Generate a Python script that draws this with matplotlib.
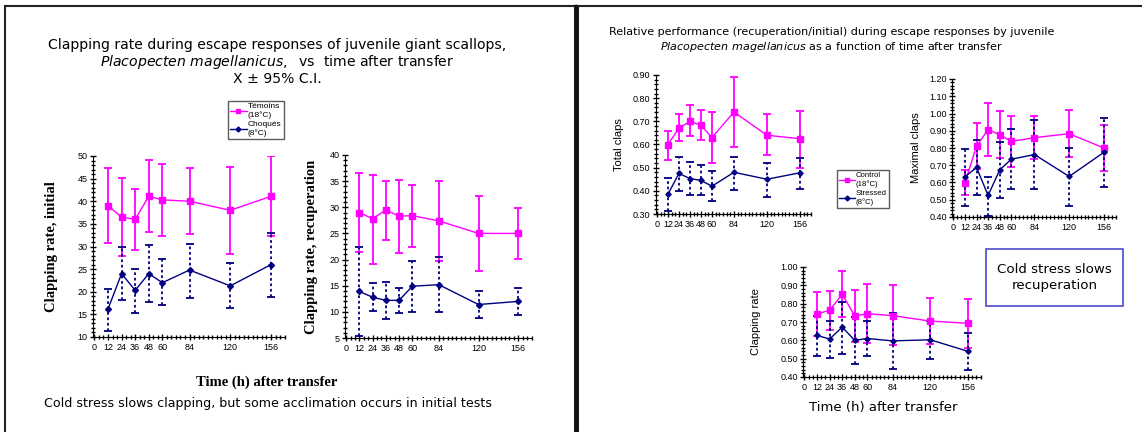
import matplotlib
matplotlib.use("Agg")
import matplotlib.pyplot as plt
from matplotlib.patches import Rectangle
from matplotlib.lines import Line2D

W, H = 1142, 432

hours = [12, 24, 36, 48, 60, 84, 120, 156]
tick_hours = [0, 12, 24, 36, 48, 60, 84, 120, 156]

# left panel: initial clapping rate (mean, low CI, high CI)
init_ctrl = [39.0, 36.5, 36.0, 41.1, 40.3, 40.0, 38.0, 41.1]
init_ctrl_lo = [30.7, 28.0, 29.3, 33.1, 32.3, 32.7, 28.3, 32.3]
init_ctrl_hi = [47.3, 45.2, 42.8, 49.1, 48.3, 47.4, 47.6, 50.0]
init_cold = [16.2, 24.0, 20.3, 24.0, 22.0, 24.8, 21.3, 26.0]
init_cold_lo = [11.3, 18.1, 15.4, 17.7, 17.0, 18.6, 16.3, 18.8]
init_cold_hi = [20.7, 30.0, 25.0, 30.3, 27.2, 30.5, 26.4, 33.0]

# left panel: recuperation clapping rate
rec_ctrl = [29.0, 27.8, 29.5, 28.3, 28.4, 27.4, 25.0, 25.0]
rec_ctrl_lo = [21.4, 19.2, 23.8, 21.2, 22.5, 19.8, 17.8, 20.2]
rec_ctrl_hi = [36.5, 36.1, 35.0, 35.2, 34.2, 35.0, 32.1, 29.8]
rec_cold = [13.9, 12.8, 12.2, 12.2, 14.9, 15.2, 11.4, 12.0]
rec_cold_lo = [5.3, 10.2, 8.6, 9.7, 10.0, 10.0, 8.8, 9.4]
rec_cold_hi = [22.5, 15.5, 15.7, 14.6, 19.8, 20.5, 14.0, 14.5]

# right panel: relative performance, total claps
tot_ctrl = [0.600, 0.670, 0.700, 0.683, 0.630, 0.740, 0.640, 0.625]
tot_ctrl_lo = [0.535, 0.615, 0.635, 0.618, 0.520, 0.590, 0.553, 0.500]
tot_ctrl_hi = [0.660, 0.730, 0.770, 0.748, 0.740, 0.890, 0.733, 0.745]
tot_cold = [0.385, 0.475, 0.453, 0.445, 0.420, 0.480, 0.450, 0.478]
tot_cold_lo = [0.315, 0.400, 0.380, 0.380, 0.355, 0.405, 0.375, 0.410]
tot_cold_hi = [0.455, 0.545, 0.525, 0.510, 0.485, 0.548, 0.522, 0.540]

# right panel: maximal claps
max_ctrl = [0.600, 0.810, 0.907, 0.877, 0.838, 0.860, 0.883, 0.800]
max_ctrl_lo = [0.528, 0.680, 0.755, 0.740, 0.690, 0.735, 0.745, 0.665]
max_ctrl_hi = [0.672, 0.943, 1.060, 1.014, 0.983, 0.987, 1.022, 0.933]
max_cold = [0.633, 0.687, 0.525, 0.673, 0.735, 0.762, 0.635, 0.775]
max_cold_lo = [0.465, 0.530, 0.405, 0.510, 0.562, 0.563, 0.465, 0.575]
max_cold_hi = [0.795, 0.845, 0.632, 0.835, 0.910, 0.960, 0.800, 0.975]

# right panel: clapping rate
rate_ctrl = [0.745, 0.763, 0.852, 0.733, 0.745, 0.735, 0.705, 0.693]
rate_ctrl_lo = [0.625, 0.655, 0.725, 0.590, 0.585, 0.572, 0.578, 0.558]
rate_ctrl_hi = [0.865, 0.870, 0.977, 0.875, 0.908, 0.900, 0.832, 0.828]
rate_cold = [0.627, 0.607, 0.672, 0.600, 0.610, 0.597, 0.603, 0.540]
rate_cold_lo = [0.515, 0.505, 0.528, 0.470, 0.515, 0.445, 0.500, 0.440]
rate_cold_hi = [0.735, 0.705, 0.810, 0.730, 0.705, 0.750, 0.705, 0.640]

PINK = "#ff00ff"
NAVY = "#000080"


def px_axes(fig, x0, x1, ytop, ybot):
    return fig.add_axes([x0 / W, 1 - ybot / H, (x1 - x0) / W, (ybot - ytop) / H])


def draw_series(ax, y, lo, hi, color, marker, ms, dotted):
    yerr = [[m - l for m, l in zip(y, lo)], [h - m for m, h in zip(y, hi)]]
    eb = ax.errorbar(hours, y, yerr=yerr, color=color, marker=marker, ms=ms,
                     lw=1, elinewidth=1.3, capsize=3, capthick=1.3, zorder=3)
    if dotted:
        eb[2][0].set_linestyle((0, (1.5, 1.5)))
    return eb


def style_axes(ax, ylim, ystep, yminor, fmt, fs):
    ax.set_xlim(-1, 168)
    ax.set_ylim(*ylim)
    for s in ["top", "right"]:
        ax.spines[s].set_visible(False)
    ax.set_xticks(tick_hours)
    ax.set_xticks(range(0, 169, 4), minor=True)
    n = int(round((ylim[1] - ylim[0]) / ystep))
    yt = [ylim[0] + i * ystep for i in range(n + 1)]
    ax.set_yticks(yt)
    ax.set_yticklabels([fmt.format(v) for v in yt])
    m = int(round((ylim[1] - ylim[0]) / yminor))
    ax.set_yticks([ylim[0] + i * yminor for i in range(m + 1)], minor=True)
    ax.tick_params(which="both", direction="inout", labelsize=fs, width=1)
    ax.tick_params(which="major", length=4, pad=2)
    ax.tick_params(which="minor", length=2.5)
    for lab in ax.get_xticklabels() + ax.get_yticklabels():
        lab.set_family("Liberation Sans")


fig = plt.figure(figsize=(W / 100, H / 100), dpi=100)

# panel borders
fig.patches.append(Rectangle((5 / W, -0.05), 570 / W, 1 - 6 / H + 0.05,
                             transform=fig.transFigure, fill=False, lw=1.5, ec="#222222"))
fig.add_artist(Line2D([575.5 / W, 575.5 / W], [0, 1 - 6 / H], transform=fig.transFigure,
                      lw=2.5, color="#111111"))
fig.patches.append(Rectangle((578 / W, -0.05), 0.6, 1 - 6 / H + 0.05,
                             transform=fig.transFigure, fill=False, lw=1.5, ec="#222222"))

# left panel titles
fig.text(277 / W, 1 - 45 / H, "Clapping rate during escape responses of juvenile giant scallops,",
         ha="center", va="center", fontsize=10.1, family="DejaVu Sans")
fig.text(277 / W, 1 - 62 / H,
         r"$\it{Placopecten\ magellanicus,}$" + "  vs  time after transfer",
         ha="center", va="center", fontsize=10.1, family="DejaVu Sans")
fig.text(277 / W, 1 - 79 / H, "X \u00b1 95% C.I.", ha="center", va="center",
         fontsize=10.1, family="DejaVu Sans")

ax1 = px_axes(fig, 93.3, 284.6, 156, 337)
draw_series(ax1, init_ctrl, init_ctrl_lo, init_ctrl_hi, PINK, "s", 5, False)
draw_series(ax1, init_cold, init_cold_lo, init_cold_hi, NAVY, "D", 3, True)
style_axes(ax1, (10, 50), 5, 1, "{:.0f}", 6.5)
ax1.set_ylabel("Clapping rate, initial", family="Liberation Serif", fontweight="bold",
               fontsize=10.5, labelpad=14)

ax2 = px_axes(fig, 345, 531.5, 155, 338)
draw_series(ax2, rec_ctrl, rec_ctrl_lo, rec_ctrl_hi, PINK, "s", 5, False)
draw_series(ax2, rec_cold, rec_cold_lo, rec_cold_hi, NAVY, "D", 3, True)
style_axes(ax2, (5, 40), 5, 1, "{:.0f}", 6.5)
ax2.set_ylabel("Clapping rate, recuperation", family="Liberation Serif", fontweight="bold",
               fontsize=10.5, labelpad=8)

leg_handles = [Line2D([], [], color=PINK, marker="s", ms=3.5, lw=1),
               Line2D([], [], color=NAVY, marker="D", ms=2.5, lw=1)]
fig.legend(leg_handles, ["T\u00e9moins\n(18\u00b0C)", "Choqu\u00e9s\n(8\u00b0C)"],
           loc="upper left", bbox_to_anchor=(228 / W, 1 - 101 / H),
           prop={"family": "Liberation Sans", "size": 6}, frameon=True, fancybox=False,
           edgecolor="#333333", handlelength=2.0, handletextpad=0.15, borderpad=0.25,
           labelspacing=0.3, borderaxespad=0)

fig.text(267 / W, 1 - 382 / H, "Time (h) after transfer", ha="center", va="center",
         family="Liberation Serif", fontweight="bold", fontsize=10.5)
fig.text(268 / W, 1 - 403 / H,
         "Cold stress slows clapping, but some acclimation occurs in initial tests",
         ha="center", va="center", fontsize=9.1, family="DejaVu Sans")

# right panel
fig.text(832 / W, 1 - 32 / H,
         "Relative performance (recuperation/initial) during escape responses by juvenile",
         ha="center", va="center", fontsize=8.0, family="DejaVu Sans")
fig.text(832 / W, 1 - 47 / H,
         r"$\it{Placopecten\ magellanicus}$" + " as a function of time after transfer",
         ha="center", va="center", fontsize=8.0, family="DejaVu Sans")

ax3 = px_axes(fig, 656, 811, 75, 214)
draw_series(ax3, tot_ctrl, tot_ctrl_lo, tot_ctrl_hi, PINK, "s", 4.5, False)
draw_series(ax3, tot_cold, tot_cold_lo, tot_cold_hi, NAVY, "D", 2.7, True)
style_axes(ax3, (0.30, 0.90), 0.10, 0.02, "{:.2f}", 6.5)
ax3.set_ylabel("Total claps", family="Liberation Sans", fontsize=8, labelpad=6)

ax4 = px_axes(fig, 952.4, 1115.5, 79, 217)
draw_series(ax4, max_ctrl, max_ctrl_lo, max_ctrl_hi, PINK, "s", 4.5, False)
draw_series(ax4, max_cold, max_cold_lo, max_cold_hi, NAVY, "D", 2.7, True)
style_axes(ax4, (0.40, 1.20), 0.10, 0.02, "{:.2f}", 6.5)
ax4.set_ylabel("Maximal claps", family="Liberation Sans", fontsize=8, labelpad=6)

ax5 = px_axes(fig, 803.4, 980.6, 267, 377)
draw_series(ax5, rate_ctrl, rate_ctrl_lo, rate_ctrl_hi, PINK, "s", 4.5, False)
draw_series(ax5, rate_cold, rate_cold_lo, rate_cold_hi, NAVY, "D", 2.7, True)
style_axes(ax5, (0.40, 1.00), 0.10, 0.02, "{:.2f}", 6.5)
ax5.set_ylabel("Clapping rate", family="Liberation Sans", fontsize=8, labelpad=14)
fig.text(883 / W, 1 - 408 / H, "Time (h) after transfer", ha="center", va="center",
         fontsize=9.5, family="DejaVu Sans")

fig.legend(leg_handles, ["Control\n(18\u00b0C)", "Stressed\n(8\u00b0C)"],
           loc="upper left", bbox_to_anchor=(837 / W, 1 - 170 / H),
           prop={"family": "Liberation Sans", "size": 5.6}, frameon=True, fancybox=False,
           edgecolor="#333333", handlelength=2.0, handletextpad=0.15, borderpad=0.25,
           labelspacing=0.3, borderaxespad=0)

fig.text(1054.5 / W, 1 - 277.5 / H, "Cold stress slows\nrecuperation", ha="center",
         va="center", fontsize=9.6, family="DejaVu Sans", linespacing=1.3)
fig.patches.append(Rectangle((986 / W, 1 - 306 / H), 137 / W, 57 / H,
                             transform=fig.transFigure, fill=False, lw=1.2, ec="#4a4ad0"))

fig.savefig("out.png", dpi=100)
